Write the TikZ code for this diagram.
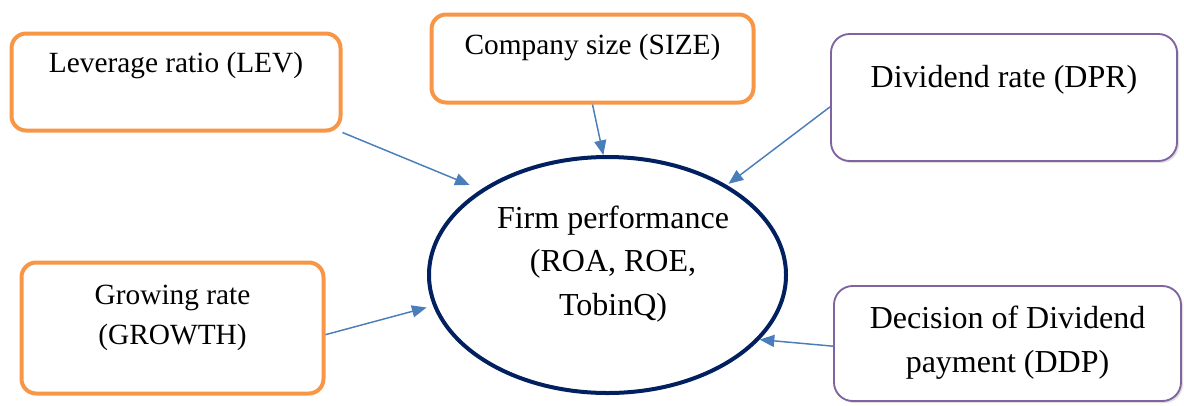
\documentclass[tikz,border=0pt]{standalone}
\usepackage{fontspec}
\setmainfont{Liberation Serif}
\usetikzlibrary{arrows.meta,shapes.geometric,shadows}
\definecolor{boxorange}{HTML}{F79646}
\definecolor{boxpurple}{HTML}{8064A2}
\definecolor{ellnavy}{HTML}{002060}
\definecolor{arrblue}{HTML}{4A7EBB}
\tikzset{
  obox/.style={draw=boxorange, line width=3pt, rounded corners=11pt, rectangle, inner sep=0pt, fill=white},
  pbox/.style={draw=boxpurple, line width=1.4pt, rounded corners=14pt, rectangle, inner sep=0pt, fill=white,
               drop shadow={shadow xshift=1.5pt, shadow yshift=-1.5pt, opacity=0.25}},
  otext/.style={font=\fontsize{22}{30}\selectfont, align=center, inner sep=0pt},
  ptext/.style={font=\fontsize{24}{33}\selectfont, align=center, inner sep=0pt},
  etext/.style={font=\fontsize{24}{32.5}\selectfont, align=center, inner sep=0pt},
  conn/.style={draw=arrblue, line width=1.1pt, -{Triangle[length=11pt,width=9pt]}}
}
\begin{document}
\begin{tikzpicture}[x=0.75pt,y=-0.75pt]
\useasboundingbox (0,0) rectangle (1184,405);
% boxes
\node[obox, minimum width=329*0.75pt, minimum height=97*0.75pt] (lev) at (176,82) {};
\node[obox, minimum width=322*0.75pt, minimum height=88*0.75pt] (size) at (592.5,58.5) {};
\node[pbox, minimum width=346*0.75pt, minimum height=127*0.75pt] (dpr) at (1004,97.5) {};
\node[obox, minimum width=302*0.75pt, minimum height=131*0.75pt] (growth) at (172.5,328) {};
\node[pbox, minimum width=347*0.75pt, minimum height=115*0.75pt] (ddp) at (1007.5,343.5) {};
\node[ellipse, draw=ellnavy, line width=3pt, minimum width=357*0.75pt, minimum height=236*0.75pt, inner sep=0pt] (ell) at (607.5,275) {};
% texts
\node[otext] (levt) at (176,65) {Leverage ratio (LEV)};
\node[otext] (sizet) at (592.5,47) {Company size (SIZE)};
\node[ptext] (dprt) at (1004,80) {Dividend rate (DPR)};
\node[otext] (growtht) at (172.5,318) {Growing rate\\(GROWTH)};
\node[ptext] (ddpt) at (1007.5,343) {Decision of Dividend\\payment (DDP)};
\node[etext] (ellt) at (613,264) {Firm performance\\(ROA, ROE,\\TobinQ)};
% connectors
\draw[conn, shorten >=9pt] (lev.south east) -- (ell.146.3);
\draw[conn] (size.south) -- (ell.92.1);
\draw[conn, shorten >=1.5pt] ([yshift=-7pt]dpr.west) -- (ell.37.7);
\draw[conn, shorten >=5pt] ([yshift=-5pt]growth.east) -- (ell.190.3);
\draw[conn] ([yshift=-2pt]ddp.west) -- (ell.-23.1);
\end{tikzpicture}
\end{document}
